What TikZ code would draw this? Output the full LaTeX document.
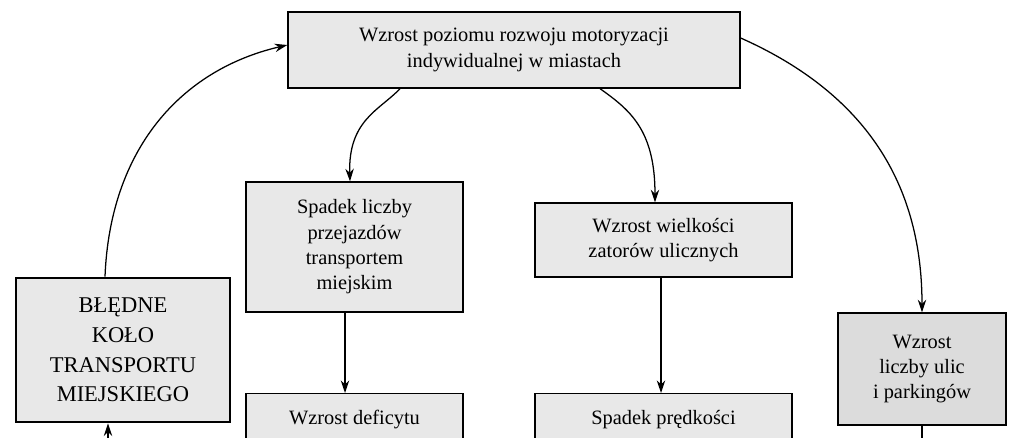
\documentclass[tikz,border=0pt]{standalone}
\usepackage{fontspec}
\setmainfont{Liberation Serif}
\usetikzlibrary{arrows.meta}
\definecolor{boxg}{HTML}{E8E8E8}
\definecolor{boxd}{HTML}{DCDCDC}
\begin{document}
\begin{tikzpicture}[x=0.025cm,y=-0.025cm,
 box/.style={draw,fill=boxg,line width=0.9pt,align=center,font=\fontsize{14.5}{18}\selectfont,inner sep=0pt},
 arr/.style={-{Stealth[length=9pt,width=6pt]},line width=0.9pt}]
\useasboundingbox (0,0) rectangle (1023,437);
\clip (0,0) rectangle (1023,437);
\node[box,minimum width=452\pgflinewidth*0+11.3cm,minimum height=1.9cm] (top) at (514,50) {Wzrost poziomu rozwoju motoryzacji\\indywidualnej w miastach};
\node[box,line width=2pt,minimum width=5.35cm,minimum height=3.6cm,font=\fontsize{16}{21}\selectfont] (bk) at (123,350) {BŁĘDNE\\KOŁO\\TRANSPORTU\\MIEJSKIEGO};
\node[box,minimum width=5.42cm,minimum height=3.25cm] (sl) at (354.5,247) {Spadek liczby\\przejazdów\\transportem\\miejskim};
\node[box,minimum width=5.42cm,minimum height=2.5cm,anchor=north,text depth=1.3cm] (wd) at (354.5,393) {Wzrost deficytu};
\node[box,minimum width=6.42cm,minimum height=1.85cm] (ww) at (663.5,240) {Wzrost wielkości\\zatorów ulicznych};
\node[box,minimum width=6.42cm,minimum height=2.5cm,anchor=north,text depth=1.3cm] (sp) at (663.5,393) {Spadek prędkości};
\node[box,fill=boxd,minimum width=4.2cm,minimum height=2.8cm] (wu) at (922,369) {Wzrost\\liczby ulic\\i parkingów};
\coordinate (b1) at (108,460);
\coordinate (b2) at (922,460);
\draw[arr] (bk.north -| 105,0) .. controls (110,150) and (180,70) .. (top.west |- 0,45);
\draw[arr] (top.south -| 400,0) .. controls (380,110) and (348,120) .. (sl.north -| 350,0);
\draw[arr] (top.south -| 600,0) .. controls (630,110) and (655,130) .. (ww.north -| 655,0);
\draw[arr] (top.east |- 0,38) .. controls (880,100) and (922,200) .. (wu.north);
\draw[arr] (sl.south -| 345,0) -- (wd.north -| 345,0);
\draw[arr] (ww.south -| 661,0) -- (sp.north -| 661,0);
\draw[arr] (b1) -- (bk.south -| 108,0);
\draw[line width=0.9pt] (wu.south) -- (b2);
\end{tikzpicture}
\end{document}
